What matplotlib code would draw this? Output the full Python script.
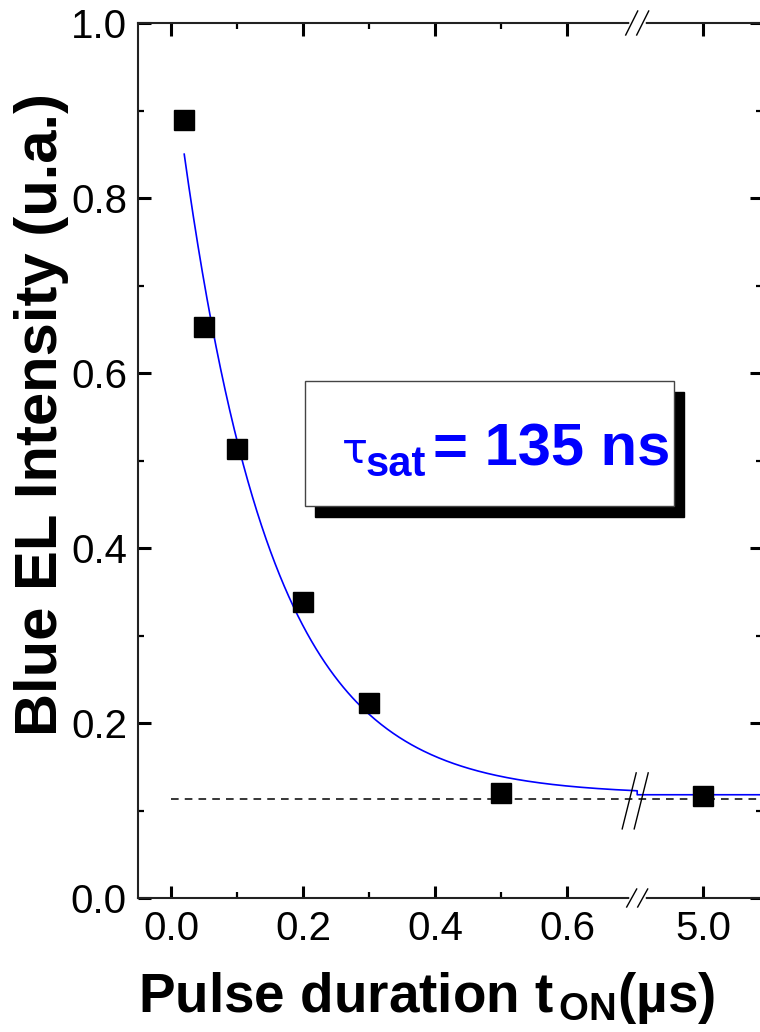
import matplotlib
matplotlib.use("Agg")
import matplotlib.pyplot as plt
import numpy as np
from matplotlib.patches import Rectangle
from matplotlib.ticker import FixedLocator, FormatStrFormatter

plt.rcParams['font.family'] = ['Liberation Sans', 'DejaVu Sans']
plt.rcParams['mathtext.fontset'] = 'custom'
plt.rcParams['mathtext.rm'] = 'Liberation Sans'
plt.rcParams['mathtext.bf'] = 'Liberation Sans:bold'
plt.rcParams['mathtext.it'] = 'Liberation Sans:italic'

# datos
t_us = [0.02, 0.05, 0.10, 0.20, 0.30, 0.50, 5.0]
intensity = [0.889, 0.653, 0.513, 0.338, 0.223, 0.120, 0.117]

# parametros del ajuste exponencial
tau_sat = 0.135      # us
fit_offset = 0.118
fit_amp = 0.849
fit_start = 0.02
baseline = 0.113

xticks = [0.0, 0.2, 0.4, 0.6, 5.0]
xminor = [0.1, 0.3, 0.5]
yticks = [0.0, 0.2, 0.4, 0.6, 0.8, 1.0]
yminor = [0.1, 0.3, 0.5, 0.7, 0.9]

# eje x cortado: 0..B1 y luego desde B2
B1 = 0.706
B2 = 4.9


def fwd(t):
    t = np.asarray(t, dtype=float)
    return np.where(t <= B1, t, B1 + np.clip(t - B2, 0, None))


def inv(p):
    p = np.asarray(p, dtype=float)
    return np.where(p <= B1, p, B2 + (p - B1))


fig = plt.figure(figsize=(7.6, 10.32), dpi=100)
W, H = 760, 1032
ax_l, ax_t, ax_r, ax_b = 138, 23, 762, 898
ax = fig.add_axes([ax_l / W, 1 - ax_b / H, (ax_r - ax_l) / W, (ax_b - ax_t) / H])
ax.set_xscale('function', functions=(fwd, inv))
xmax = 5.089
ax.set_xlim(-0.05, xmax)
ax.set_ylim(0, 1.0)

# curva de ajuste
t_fit = np.concatenate([np.linspace(fit_start, B1, 300), np.linspace(B2, xmax, 20)])
y_fit = fit_offset + fit_amp * np.exp(-t_fit / tau_sat)
ax.plot(t_fit, y_fit, color='#0000FF', lw=1.2, zorder=3)

# linea de base
ax.plot([0.0, xmax], [baseline, baseline], color='black', lw=1.1,
        linestyle=(0, (5, 4)), zorder=2)

# puntos
ax.plot(t_us, intensity, 's', color='black', ms=14.5, zorder=4)

# ejes y ticks
for s in ax.spines.values():
    s.set_linewidth(1.5)
    s.set_color('#222222')
ax.xaxis.set_major_locator(FixedLocator(xticks))
ax.xaxis.set_minor_locator(FixedLocator(xminor))
ax.xaxis.set_major_formatter(FormatStrFormatter('%.1f'))
ax.yaxis.set_major_locator(FixedLocator(yticks))
ax.yaxis.set_minor_locator(FixedLocator(yminor))
ax.yaxis.set_major_formatter(FormatStrFormatter('%.1f'))
ax.tick_params(which='both', direction='in', top=True, right=True,
               labelsize=29, colors='black')
ax.tick_params(which='major', length=9, width=2.2)
ax.tick_params(which='minor', length=4, width=1.6)
ax.tick_params(axis='x', pad=9)
ax.tick_params(axis='y', pad=8)

ax.set_xlabel("Pulse duration $\\mathbf{t}_{\\,\\mathbf{ON}}$(µs)",
              fontsize=39.5, fontweight='bold')
ax.set_ylabel("Blue EL Intensity (u.a.)", fontsize=43, fontweight='bold')
ax.xaxis.set_label_coords(0.463, -0.082)
ax.yaxis.set_label_coords(-0.110, 0.553)

# marcas de corte
fig.canvas.draw()
aw = ax_r - ax_l
ah = ax_b - ax_t
xb = ax.transAxes.inverted().transform(ax.transData.transform((B1, 0)))[0]
for yb, hx, hy in [(1.0, 6, 12), (0.0, 5, 9)]:
    ax.plot([xb - 5.5 / aw, xb + 5.5 / aw], [yb, yb], color='white', lw=4,
            transform=ax.transAxes, clip_on=False, zorder=5)
    for off in (-5.5, 5.5):
        cx = xb + off / aw
        ax.plot([cx - hx / aw, cx + hx / aw], [yb - hy / ah, yb + hy / ah],
                color='black', lw=1.0, transform=ax.transAxes, clip_on=False,
                zorder=6)
ym = baseline - 0.002
for off in (-6, 6):
    cx = xb + (off - 2) / aw
    ax.plot([cx - 7 / aw, cx + 7 / aw], [ym - 28 / ah, ym + 28 / ah],
            color='black', lw=1.0, transform=ax.transAxes, clip_on=False,
            zorder=6)

# recuadro con sombra
bx0, by0 = (305 - ax_l) / aw, (ax_b - 506) / ah
bw, bh = (674 - 305) / aw, (506 - 381) / ah
ax.add_patch(Rectangle((bx0 + 10 / aw, by0 - 11 / ah), bw, bh, transform=ax.transAxes,
                       facecolor='black', edgecolor='black', zorder=7, clip_on=False))
ax.add_patch(Rectangle((bx0, by0), bw, bh, transform=ax.transAxes,
                       facecolor='white', edgecolor='#444444', lw=1.0, zorder=8,
                       clip_on=False))
ax.text((342 - ax_l) / aw, (ax_b - 463) / ah, "τ", fontsize=31, color='#0000FF',
        family='DejaVu Sans', transform=ax.transAxes, va='baseline', ha='left',
        zorder=9)
ax.text((366 - ax_l) / aw, (ax_b - 476) / ah, "sat", fontsize=30, fontweight='bold',
        color='#0000FF', transform=ax.transAxes, va='baseline', ha='left', zorder=9)
ax.text((433 - ax_l) / aw, (ax_b - 465) / ah, "= 135 ns", fontsize=43,
        fontweight='bold', color='#0000FF', transform=ax.transAxes,
        va='baseline', ha='left', zorder=9)

fig.savefig('out.png', dpi=100)
